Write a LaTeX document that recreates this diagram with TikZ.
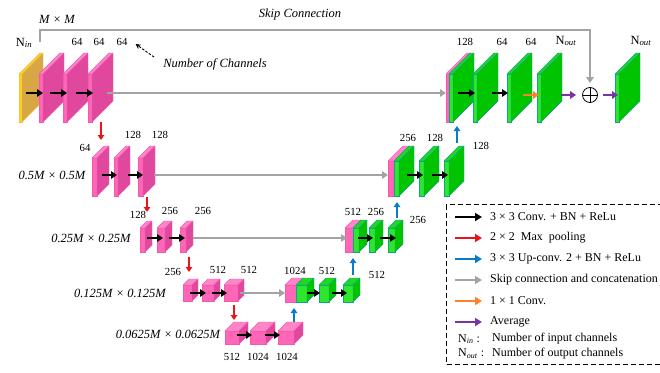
\documentclass[tikz,border=0pt]{standalone}
\usepackage{fontspec}
\setmainfont{Liberation Serif}
\usetikzlibrary{positioning,arrows.meta,calc}
\definecolor{pinkfront}{HTML}{FF66B8}
\definecolor{pinkside}{HTML}{E0489E}
\definecolor{pinktop}{HTML}{FF85C8}
\definecolor{pinkedge}{HTML}{F25AAE}
\definecolor{greenfront}{HTML}{2EE62E}
\definecolor{greenside}{HTML}{00C400}
\definecolor{greentop}{HTML}{1FD81F}
\definecolor{greenedge}{HTML}{10A38C}
\definecolor{yellowfront}{HTML}{FFD21F}
\definecolor{yellowside}{HTML}{D6A744}
\definecolor{yellowtop}{HTML}{FFC93C}
\definecolor{yellowedge}{HTML}{F2C230}
\definecolor{poolred}{HTML}{E8141A}
\definecolor{upblue}{HTML}{0A7ACC}
\definecolor{skipgray}{HTML}{A3A3A3}
\definecolor{oneorange}{HTML}{FF8026}
\definecolor{avgpurple}{HTML}{7B32A8}
\tikzset{
  slabfront/.style={draw=#1edge, fill=#1front, line width=.4pt, inner sep=0pt, outer sep=0pt},
  slabface/.style={draw=#1edge, line width=.4pt, line join=round},
  conv/.style={-{Triangle[length=6pt,width=7.5pt]}, line width=2.6pt, black},
  skip/.style={-{Triangle[length=6pt,width=7.5pt]}, line width=2.4pt, skipgray},
  pool/.style={-{Triangle[length=5pt,width=6.5pt]}, line width=2.2pt, poolred},
  up/.style={-{Triangle[length=5pt,width=6.5pt]}, line width=2.2pt, upblue},
  one/.style={-{Triangle[length=6pt,width=7.5pt]}, line width=2.6pt, oneorange},
  avg/.style={-{Triangle[length=6pt,width=7.5pt]}, line width=2.6pt, avgpurple},
  num/.style={inner sep=1pt},
  nlab/.style={font=\fontsize{12.5pt}{14pt}\selectfont, inner sep=1pt},
  lvl/.style={font=\fontsize{12.5pt}{14pt}\selectfont\itshape, inner sep=1pt},
  legtxt/.style={font=\fontsize{12pt}{14pt}\selectfont, inner sep=1pt, anchor=west},
  legarr/.style={-{Triangle[length=7pt,width=8pt]}, line width=2.6pt, shorten >=7pt},
  legbox/.style={draw, dash pattern=on 5pt off 3pt, line width=1pt, inner sep=0pt},
  plusnode/.style={circle, draw, line width=.8pt, minimum size=15pt, inner sep=0pt,
    path picture={\draw[line width=.8pt] (path picture bounding box.north) -- (path picture bounding box.south)
      (path picture bounding box.west) -- (path picture bounding box.east);}},
  pointer/.style={-{Stealth[length=5pt,width=5pt]}, dash pattern=on 2.5pt off 1.5pt, line width=.9pt},
}
% slab: name, colour, x, y (front top left), width, height, depth
\newcommand{\slab}[7]{%
  \node[slabfront=#2, minimum width=#5pt, minimum height=#6pt, anchor=north west] (#1) at (#3,#4) {};
  \filldraw[slabface=#2, fill=#2top] (#1.north west) -- ++(#7,-#7) -- ($(#1.north east)+(#7,-#7)$) -- (#1.north east) -- cycle;
  \filldraw[slabface=#2, fill=#2side] (#1.north east) -- ++(#7,-#7) -- ($(#1.south east)+(#7,-#7)$) -- (#1.south east) -- cycle;
}
\begin{document}
\begin{tikzpicture}[x=1pt, y=-1pt, font=\fontsize{10.8pt}{12pt}\selectfont]
  \fill[white] (0,0) rectangle (660,372);
  \useasboundingbox (0,0) rectangle (660,372);
  \clip (0,0) rectangle (660,372);

  % level 1
  \slab{inp}{yellow}{19}{74}{3}{48}{21}
  \slab{e11}{pink}{39}{74}{4}{48}{21}
  \slab{e12}{pink}{63}{74}{4}{48}{21}
  \slab{e13}{pink}{88}{74}{4}{48}{21}
  \slab{d1p}{pink}{446}{74}{3}{48}{21}
  \slab{d1g}{green}{449}{74}{4}{48}{21}
  \slab{d12}{green}{473}{74}{4}{48}{21}
  \slab{d13}{green}{507}{74}{4}{48}{21}
  \slab{d14}{green}{537}{74}{4}{48}{21}
  \slab{outp}{green}{615}{74}{4}{48}{21}
  \node[plusnode] (plus) at (590,95) {};

  % level 2
  \slab{e21}{pink}{92}{158}{5}{38}{12}
  \slab{e22}{pink}{114}{158}{4}{38}{12}
  \slab{e23}{pink}{138}{158}{5}{38}{12}
  \slab{d2p}{pink}{388}{161}{6}{35}{15}
  \slab{d2g}{green}{394}{161}{5}{35}{15}
  \slab{d22}{green}{419}{161}{5}{35}{15}
  \slab{d23}{green}{444}{161}{5}{35}{15}

  % level 3
  \slab{e31}{pink}{140}{228}{5}{24}{7}
  \slab{e32}{pink}{157}{228}{8}{24}{7}
  \slab{e33}{pink}{180}{228}{6}{24}{7}
  \slab{d3p}{pink}{345}{228}{8}{24}{8}
  \slab{d3g}{green}{353}{228}{6}{24}{8}
  \slab{d32}{green}{369}{228}{6}{24}{8}
  \slab{d33}{green}{388}{228}{7}{24}{8}

  % level 4
  \slab{e41}{pink}{183}{285}{9}{16}{6}
  \slab{e42}{pink}{202}{285}{12}{16}{6}
  \slab{e43}{pink}{224}{285}{14}{16}{6}
  \slab{d4p}{pink}{285}{285}{11}{17}{7}
  \slab{d4g}{green}{296}{285}{11}{17}{7}
  \slab{d42}{green}{319}{285}{10}{17}{7}
  \slab{d43}{green}{343}{285}{10}{17}{7}

  % level 5
  \slab{b1}{pink}{225}{331}{14}{13}{9}
  \slab{b2}{pink}{250}{331}{16}{13}{9}
  \slab{b3}{pink}{278}{331}{16}{13}{9}

  % arrows, level 1
  \draw[conv] ([xshift=4pt,yshift=5pt]inp.east) -- ([xshift=4pt,yshift=5pt]e11.west);
  \draw[conv] ([xshift=7pt,yshift=5pt]e11.east) -- ([xshift=4pt,yshift=5pt]e12.west);
  \draw[conv] ([xshift=9pt,yshift=5pt]e12.east) -- ([xshift=5pt,yshift=5pt]e13.west);
  \draw[skip] ([xshift=15pt,yshift=5pt]e13.east) -- ([yshift=5pt]d1p.west);
  \draw[conv] ([xshift=5pt,yshift=5pt]d1g.east) -- ([xshift=2pt,yshift=5pt]d12.west);
  \draw[conv] ([xshift=15pt,yshift=5pt]d12.east) -- ([xshift=1pt,yshift=5pt]d13.west);
  \draw[one] ([xshift=12pt,yshift=3pt]d13.east) -- ([xshift=2pt,yshift=3pt]d14.west);
  \draw[avg, shorten >=6pt] ([xshift=20pt,yshift=3pt]d14.east) -- (plus);
  \draw[avg, shorten <=5pt] (plus) -- ([xshift=3pt,yshift=3pt]outp.west);
  \coordinate (skipin) at (40,42);
  \draw[skip, line width=2pt, shorten >=4pt] (skipin) -- ++(0,-12) -| (plus.north);

  % arrows, level 2
  \draw[pool] ($(e13.south)+(11,0)$) -- ($(e13.south |- e21.north)+(11,-18)$);
  \draw[conv] ([xshift=5pt,yshift=2pt]e21.east) -- ([xshift=3pt,yshift=2pt]e22.west);
  \draw[conv] ([xshift=10pt,yshift=2pt]e22.east) -- ([xshift=5pt,yshift=2pt]e23.west);
  \draw[skip] ([xshift=11pt,yshift=2pt]e23.east) -- ([yshift=3.5pt]d2p.west);
  \draw[conv] ([xshift=8pt,yshift=3.5pt]d2g.east) -- ([xshift=4pt,yshift=3.5pt]d22.west);
  \draw[conv] ([xshift=8pt,yshift=3.5pt]d22.east) -- ([xshift=4pt,yshift=3.5pt]d23.west);
  \draw[up] ($(d23.north)+(10.5,-18)$) -- ($(d23.north |- d1g.south)+(10.5,4)$);

  % arrows, level 3
  \draw[pool] ($(e23.south)+(6.5,1)$) -- ($(e23.south |- e31.north)+(6.5,-16)$);
  \draw[conv] ([xshift=2pt,yshift=2pt]e31.east) -- ([xshift=6pt,yshift=2pt]e32.west);
  \draw[conv] ([xshift=4pt,yshift=2pt]e32.east) -- ([xshift=5pt,yshift=2pt]e33.west);
  \draw[skip] ([xshift=7pt,yshift=2pt]e33.east) -- ([xshift=2pt,yshift=2pt]d3p.west);
  \draw[conv] ([xshift=-1pt,yshift=2pt]d3g.east) -- ([xshift=4pt,yshift=2pt]d32.west);
  \draw[conv] ([xshift=5pt,yshift=2pt]d32.east) -- ([xshift=8pt,yshift=2pt]d33.west);
  \draw[up] ($(d33.north)+(5.5,-10)$) -- ($(d33.north |- d2g.south)+(5.5,6)$);

  % arrows, level 4
  \draw[pool] ($(e33.south)+(6,5)$) -- ($(e33.south |- e41.north)+(6,-13)$);
  \draw[conv] ([xshift=-2pt]e41.east) -- ([xshift=4pt]e42.west);
  \draw[conv] ([xshift=-2pt]e42.east) -- ([xshift=3pt]e43.west);
  \draw[skip] ([xshift=2pt]e43.east) -- ([yshift=.5pt]d4p.west);
  \draw[conv] ([yshift=.5pt]d4g.east) -- ([xshift=1pt,yshift=.5pt]d42.west);
  \draw[conv] ([xshift=3pt,yshift=.5pt]d42.east) -- ([xshift=4pt,yshift=.5pt]d43.west);
  \draw[up] ($(d43.north)+(5,-10)$) -- ($(d43.north |- d3g.south)+(5,6)$);

  % arrows, level 5
  \draw[pool] ($(e43.south)+(3,4)$) -- ($(e43.south |- b1.north)+(3,-11)$);
  \draw[conv] ([xshift=-2pt,yshift=2.5pt]b1.east) -- ([xshift=2pt,yshift=2.5pt]b2.west);
  \draw[conv] ([xshift=-1pt,yshift=2.5pt]b2.east) -- ([xshift=2pt,yshift=2.5pt]b3.west);
  \draw[up] ($(b3.north)+(8,-9)$) -- ($(b3.north |- d4p.south)+(8,6)$);

  % channel numbers
  \node[nlab] (nin) at (24,43) {N\textsubscript{\textit{in}}};
  \node[num] (n11) at (77,42) {64};
  \node[num] (n12) at (99,42) {64};
  \node[num] (n13) at (122,42) {64};
  \node[num] (m11) at (465,42) {128};
  \node[num] (m12) at (502,42) {64};
  \node[num] (m13) at (531,42) {64};
  \node[nlab] (nout) at (566,41) {N\textsubscript{\textit{out}}};
  \node[nlab] (nout2) at (641,41) {N\textsubscript{\textit{out}}};
  \node[num] (n21) at (85,148) {64};
  \node[num] (n22) at (133,135) {128};
  \node[num] (n23) at (160,135) {128};
  \node[num] (m21) at (408,138) {256};
  \node[num] (m22) at (435,138) {128};
  \node[num] (m23) at (481,146) {128};
  \node[num] (n31) at (138,215) {128};
  \node[num] (n32) at (170,211) {256};
  \node[num] (n33) at (203,211) {256};
  \node[num] (m31) at (353,212) {512};
  \node[num] (m32) at (376,212) {256};
  \node[num] (m33) at (418,220) {256};
  \node[num] (n41) at (173,272) {256};
  \node[num] (n42) at (218,270) {512};
  \node[num] (n43) at (249,270) {512};
  \node[num] (m41) at (295,271) {1024};
  \node[num] (m42) at (327,271) {512};
  \node[num] (m43) at (377,275) {512};
  \node[num] (n51) at (232,357) {512};
  \node[num] (n52) at (258,357) {1024};
  \node[num] (n53) at (287,357) {1024};

  % sizes and captions
  \node[lvl] (msize) at (57,19) {M × M};
  \node[lvl] (skipcap) at (300,14) {Skip Connection};
  \node[lvl] (chn) at (215,64) {Number of Channels};
  \draw[pointer] ([xshift=-8pt]chn.north west) -- ([xshift=7pt,yshift=-2pt]n13.east);
  \node[lvl] (lv2) at (52,175) {0.5M × 0.5M};
  \node[lvl] (lv3) at (91,238) {0.25M × 0.25M};
  \node[lvl] (lv4) at (120,293) {0.125M × 0.125M};
  \node[lvl] (lv5) at (168,334) {0.0625M × 0.0625M};

  % legend
  \node[legbox, minimum width=280pt, minimum height=160pt, anchor=north west] (leg) at (446,204) {};
  \foreach \c/\t [count=\i] in {black/{3 × 3 Conv. + BN + ReLu},
      poolred/{2 × 2\ \ Max\ \ pooling},
      upblue/{3 × 3 Up-conv. 2 + BN + ReLu},
      skipgray/{Skip connection and concatenation},
      oneorange/{1 × 1 Conv.},
      avgpurple/{Average}}{
    \coordinate (k\i) at ($(leg.north west)+(9,21*\i-8)$);
    \node[legtxt, right=34pt of k\i] (t\i) {\t};
    \draw[legarr, color=\c] (k\i) -- (t\i.west);
  }
  \node[legtxt] (kin) at ($(leg.north west)+(11,135)$) {N\textsubscript{\textit{in}} :};
  \node[legtxt] (tin) at ($(leg.north west)+(45,135)$) {Number of input channels};
  \node[legtxt] (kout) at ($(leg.north west)+(11,150)$) {N\textsubscript{\textit{out}} :};
  \node[legtxt] (tout) at ($(leg.north west)+(45,150)$) {Number of output channels};
\end{tikzpicture}
\end{document}
